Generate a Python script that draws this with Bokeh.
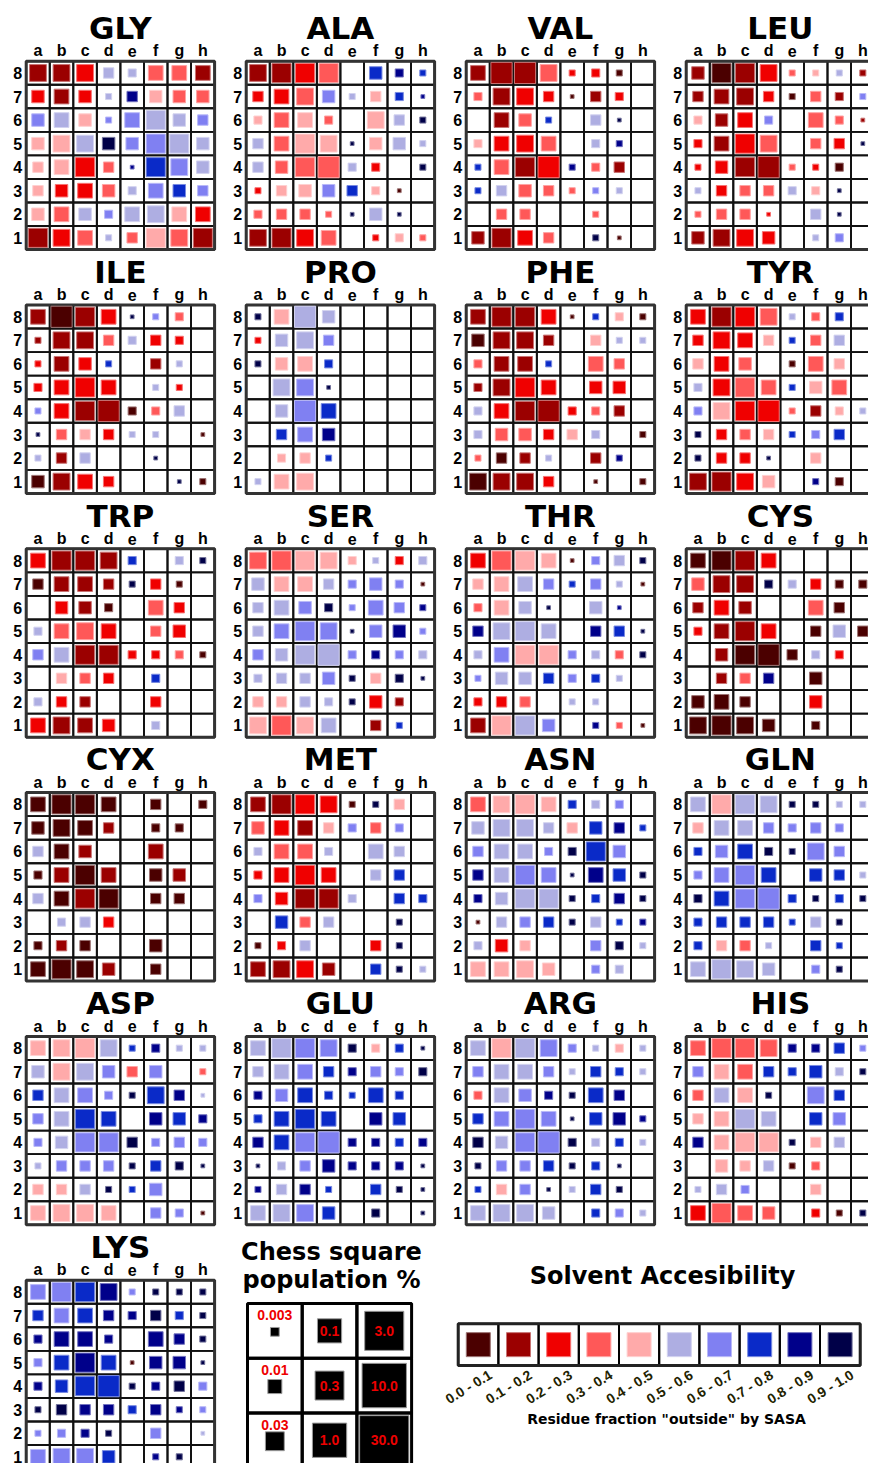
import math
from bokeh.plotting import figure
from bokeh.models import Range1d, ColumnDataSource
from bokeh.embed import file_html
from bokeh.resources import INLINE
from bokeh.core.properties import value

# ---------------- data ----------------
FILES = ["a", "b", "c", "d", "e", "f", "g", "h"]
RANKS = ["8", "7", "6", "5", "4", "3", "2", "1"]
POP_CLASSES = [0.003, 0.01, 0.03, 0.1, 0.3, 1.0, 3.0, 10.0, 30.0]
POP_LABELS = ["0.003", "0.01", "0.03", "0.1", "0.3", "1.0", "3.0", "10.0", "30.0"]
SASA_LABELS = ["0.0 - 0.1", "0.1 - 0.2", "0.2 - 0.3", "0.3 - 0.4", "0.4 - 0.5",
               "0.5 - 0.6", "0.6 - 0.7", "0.7 - 0.8", "0.8 - 0.9", "0.9 - 1.0"]
SASA_COLORS = ["#4b0000", "#9b0000", "#f00000", "#ff5858", "#ffaaaa",
               "#aeaee2", "#8080f2", "#0a2ac8", "#00008a", "#000048"]

# Each board: rows are ranks 8..1, characters are files a..h.
# *_POP: population class (1..9 -> POP_CLASSES, 0 = empty square)
# *_SAS: solvent accessibility bin (0..9 -> SASA_LABELS)
GLY_POP = ["77743666", "56524555", "56526854", "57755885", "46841875", "45653654", "56536766", "87624878"]
GLY_SAS = ["11255331", "21258433", "65466556", "44596655", "44238765", "42235676", "43565542", "12353431"]
ALA_POP = ["78880532", "46752431", "36630742", "46871552", "45893302", "24554310", "34421510", "78760232"]
ALA_SAS = ["11230787", "22365478", "43430459", "53449455", "53335209", "24467400", "33339590", "11230243"]
VAL_POP = ["69972320", "37741430", "06520410", "36760320", "26892340", "24542220", "04400200", "58640210"]
VAL_SAS = ["11132200", "31220120", "01370590", "42230580", "73128310", "75333650", "03300300", "11230900"]
LEU_POP = ["58872222", "46742432", "35630631", "36870441", "25892230", "24443310", "24410410", "57750230"]
LEU_SAS = ["10123451", "11120316", "41260331", "21230329", "22113200", "52335490", "33320590", "11220560"]
ILE_POP = ["69861230", "27743430", "26520420", "36860220", "26893340", "14442201", "24400100", "57640012"]
ILE_SAS = ["10129630", "11135220", "21270150", "22220520", "62110350", "93425500", "51500900", "01220090"]
PRO_POP = ["26950000", "25740000", "25630000", "07710000", "05960000", "04650000", "03420000", "26700000"]
PRO_SAS = ["94550000", "25560000", "94470000", "05690000", "05670000", "07680000", "04470000", "54400000"]
PHE_POP = ["68861232", "57740422", "36620640", "37860550", "36893340", "35544302", "24420420", "77740102"]
PHE_SAS = ["11120740", "01110455", "31170330", "11220220", "52112310", "53324500", "30150180", "01120000"]
TYR_POP = ["68872330", "47642440", "46502640", "37862560", "37892432", "24442340", "24410400", "78750230"]
TYR_SAS = ["21235370", "22247350", "42300340", "52337430", "64223145", "92347670", "92290400", "11240800"]
TRP_POP = ["68873032", "46642420", "05530640", "36760450", "46883332", "04440300", "34400400", "67650300"]
TRP_SAS = ["21117059", "01119200", "02100320", "53320320", "65112230", "04320700", "52100200", "21120500"]
SER_POP = ["78873233", "56643531", "46532642", "46871552", "45893333", "34452431", "44432530", "78760420"]
SER_SAS = ["33444525", "54456660", "55696668", "56669686", "65556865", "55569499", "44559210", "43450170"]
THR_POP = ["68861342", "46642421", "36510510", "47860441", "36883332", "25543320", "34402200", "68850221"]
THR_SAS = ["23440659", "44567650", "34590580", "85550879", "56446539", "65576750", "22305500", "14560830"]
CYS_POP = ["68860000", "57733433", "46500640", "36860454", "05894330", "04440500", "56400500", "78750300"]
CYS_SAS = ["00120000", "31195200", "12100300", "21120050", "01000520", "01380000", "00000200", "00000000"]
CYX_POP = ["68860403", "57640330", "46500600", "36860550", "46880440", "03440000", "34400500", "68750400"]
CYX_SAS = ["00000000", "00010000", "50100100", "01010010", "50100000", "05520000", "01000000", "00010000"]
MET_POP = ["68872240", "56643430", "36630640", "36860440", "35883043", "05440020", "23400420", "67750422"]
MET_SAS = ["11220940", "32146360", "53350550", "22220570", "62115077", "07350090", "02500290", "11210795"]
ASN_POP = ["67863330", "57744542", "46633850", "46861652", "35882342", "14442422", "35400432", "66750330"]
ASN_SAS = ["34447560", "55554787", "65569760", "85669879", "85559789", "05679578", "52400695", "44440650"]
GLN_POP = ["68872222", "46643430", "35632740", "36860542", "36893232", "34442420", "34420420", "68750320"]
GLN_SAS = ["54559955", "45566660", "76799660", "66670775", "97667979", "77777590", "74350770", "55550690"]
ASP_POP = ["67872322", "57754502", "46632741", "46860553", "35884343", "24442431", "44422500", "67760431"]
ASP_SAS = ["44457855", "54563603", "75669785", "65770878", "65669666", "56669799", "44597600", "44440660"]
GLU_POP = ["68873331", "46643433", "35632630", "36860550", "46893333", "13453331", "24420421", "67750301"]
GLU_SAS = ["55669479", "55678669", "86777770", "77770870", "87668878", "95688889", "85870799", "55670909"]
ARG_POP = ["68873232", "46642432", "36532640", "46861552", "45893332", "24442310", "24412420", "67750332"]
ARG_SAS = ["54566545", "65565775", "35689780", "76669788", "95669575", "96679790", "74695790", "55550765"]
HIS_POP = ["68873342", "46643532", "46620740", "46860550", "46882440", "05442300", "24300400", "68650322"]
HIS_SAS = ["33338876", "64377759", "35490670", "44550760", "84449450", "04450300", "55600400", "23330209"]
LYS_POP = ["68872222", "46643432", "36630642", "36861551", "35892343", "24443422", "23320401", "67750220"]
LYS_SAS = ["66786999", "76788979", "88880889", "67870889", "87779896", "99887886", "66890605", "66670890"]

BOARD_ROWS = [
    [("GLY", GLY_POP, GLY_SAS), ("ALA", ALA_POP, ALA_SAS), ("VAL", VAL_POP, VAL_SAS), ("LEU", LEU_POP, LEU_SAS)],
    [("ILE", ILE_POP, ILE_SAS), ("PRO", PRO_POP, PRO_SAS), ("PHE", PHE_POP, PHE_SAS), ("TYR", TYR_POP, TYR_SAS)],
    [("TRP", TRP_POP, TRP_SAS), ("SER", SER_POP, SER_SAS), ("THR", THR_POP, THR_SAS), ("CYS", CYS_POP, CYS_SAS)],
    [("CYX", CYX_POP, CYX_SAS), ("MET", MET_POP, MET_SAS), ("ASN", ASN_POP, ASN_SAS), ("GLN", GLN_POP, GLN_SAS)],
    [("ASP", ASP_POP, ASP_SAS), ("GLU", GLU_POP, GLU_SAS), ("ARG", ARG_POP, ARG_SAS), ("HIS", HIS_POP, HIS_SAS)],
    [("LYS", LYS_POP, LYS_SAS)],
]

# ---------------- layout / style ----------------
W, H = 868, 1463
X0, DX = 25.7, 220.0
Y0, DY = 60.7, 243.8
CELL = 23.55
BOLD_W = "DejaVu Sans"
BOLD_N = "Liberation Sans"


def side(pop, cell):
    return cell * (0.16 + 0.185 * math.log10(pop / 0.003))


def lighten(c, t):
    r, g, b = int(c[1:3], 16), int(c[3:5], 16), int(c[5:7], 16)
    return "#%02x%02x%02x" % (round(r + (255 - r) * t), round(g + (255 - g) * t), round(b + (255 - b) * t))


p = figure(width=W, height=H, x_range=Range1d(0, W), y_range=Range1d(H, 0),
           output_backend="svg", toolbar_location=None, min_border=0,
           x_axis_location=None, y_axis_location=None, outline_line_color=None,
           background_fill_color="white", border_fill_color="white")
p.xgrid.visible = False
p.ygrid.visible = False

cells = dict(x=[], y=[])
frames = dict(x=[], y=[], w=[], h=[])
sq = dict(x=[], y=[], s=[], fill=[], line=[])
titles = dict(x=[], y=[], t=[])
letters = dict(x=[], y=[], t=[])
numbers = dict(x=[], y=[], t=[])

for r, row in enumerate(BOARD_ROWS):
    for c, (name, pops, sass) in enumerate(row):
        bx = X0 + DX * c
        by = Y0 + DY * r
        frames["x"].append(bx + 4 * CELL)
        frames["y"].append(by + 4 * CELL)
        frames["w"].append(8 * CELL)
        frames["h"].append(8 * CELL)
        titles["x"].append(bx + 4 * CELL)
        titles["y"].append(by - 33.2)
        titles["t"].append(name)
        for j, f in enumerate(FILES):
            letters["x"].append(bx + (j + 0.5) * CELL)
            letters["y"].append(by - 10.3)
            letters["t"].append(f)
        for i, rk in enumerate(RANKS):
            numbers["x"].append(bx - 4)
            numbers["y"].append(by + (i + 0.5) * CELL)
            numbers["t"].append(rk)
            for j in range(8):
                cx = bx + (j + 0.5) * CELL
                cy = by + (i + 0.5) * CELL
                cells["x"].append(cx)
                cells["y"].append(cy)
                lvl = int(pops[i][j])
                if lvl > 0:
                    col = SASA_COLORS[int(sass[i][j])]
                    sq["x"].append(cx)
                    sq["y"].append(cy)
                    sq["s"].append(side(POP_CLASSES[lvl - 1], CELL))
                    sq["fill"].append(col)
                    sq["line"].append(lighten(col, 0.45))

p.rect("x", "y", width=CELL, height=CELL, source=ColumnDataSource(cells),
       fill_color=None, line_color="#111111", line_width=1.9)
p.rect("x", "y", width="w", height="h", source=ColumnDataSource(frames),
       fill_color=None, line_color="#333333", line_width=3)
p.rect("x", "y", width="s", height="s", source=ColumnDataSource(sq),
       fill_color="fill", line_color="line", line_width=1)

p.text("x", "y", text="t", source=ColumnDataSource(titles), text_font=value(BOLD_W),
       text_font_style="bold", text_font_size="31px", text_align="center",
       text_baseline="middle", text_color="black")
p.text("x", "y", text="t", source=ColumnDataSource(letters), text_font=value(BOLD_N),
       text_font_style="bold", text_font_size="16px", text_align="center",
       text_baseline="middle", text_color="black")
p.text("x", "y", text="t", source=ColumnDataSource(numbers), text_font=value(BOLD_N),
       text_font_style="bold", text_font_size="16px", text_align="right",
       text_baseline="middle", text_color="black")

# ---------------- population legend ----------------
LX0, LY0, LC = 247.0, 1303.0, 54.7
p.text([331, 331], [1251.7, 1279.4], text=["Chess square", "population %"], text_font=value(BOLD_W),
       text_font_style="bold", text_font_size="24px", text_align="center",
       text_baseline="middle", text_color="black")
leg = dict(x=[], y=[], s=[])
lab_in = dict(x=[], y=[], t=[])
lab_top = dict(x=[], y=[], t=[])
lcells = dict(x=[], y=[])
for k, (pv, pl) in enumerate(zip(POP_CLASSES, POP_LABELS)):
    col, row = k // 3, k % 3
    cx = LX0 + (col + 0.5) * LC
    cy = LY0 + (row + 0.5) * LC
    lcells["x"].append(cx)
    lcells["y"].append(cy)
    s = side(pv, LC)
    leg["x"].append(cx)
    leg["s"].append(s)
    if col == 0:
        leg["y"].append(cy + 1)
        lab_top["x"].append(cx)
        lab_top["y"].append(cy - 15.5)
        lab_top["t"].append(pl)
    else:
        leg["y"].append(cy)
        lab_in["x"].append(cx)
        lab_in["y"].append(cy)
        lab_in["t"].append(pl)
p.rect("x", "y", width=LC, height=LC, source=ColumnDataSource(lcells),
       fill_color=None, line_color="black", line_width=3)
p.rect("x", "y", width="s", height="s", source=ColumnDataSource(leg),
       fill_color="black", line_color="#9a9a9a", line_width=1)
p.text("x", "y", text="t", source=ColumnDataSource(lab_top), text_font=value(BOLD_N),
       text_font_style="bold", text_font_size="14px", text_align="center",
       text_baseline="middle", text_color="#ee0000")
p.text("x", "y", text="t", source=ColumnDataSource(lab_in), text_font=value(BOLD_N),
       text_font_style="bold", text_font_size="14px", text_align="center",
       text_baseline="middle", text_color="#ee0000")

# ---------------- solvent accessibility legend ----------------
SX0, SY0, SW, SH = 457.7, 1323.3, 40.2, 41.7
p.text([662], [1275.7], text=["Solvent Accesibility"], text_font=value(BOLD_W),
       text_font_style="bold", text_font_size="24px", text_align="center",
       text_baseline="middle", text_color="black")
sc = dict(x=[], y=[], fill=[], line=[], tx=[], ty=[], t=[])
for k, (lab, col) in enumerate(zip(SASA_LABELS, SASA_COLORS)):
    cx = SX0 + (k + 0.5) * SW
    sc["x"].append(cx)
    sc["y"].append(SY0 + SH / 2)
    sc["fill"].append(col)
    sc["line"].append(lighten(col, 0.45))
    sc["tx"].append(cx + 8)
    sc["ty"].append(SY0 + SH + 1)
    sc["t"].append(lab)
ssrc = ColumnDataSource(sc)
p.rect("x", "y", width=SW, height=SH, source=ssrc, fill_color=None,
       line_color="black", line_width=2)
p.rect([SX0 + 5 * SW], [SY0 + SH / 2], width=10 * SW, height=SH, fill_color=None,
       line_color="#222222", line_width=3)
p.rect("x", "y", width=24, height=24, source=ssrc, fill_color="fill",
       line_color="line", line_width=1)
p.text("tx", "ty", text="t", source=ssrc, angle=0.55, text_font=value(BOLD_N),
       text_font_style="bold", text_font_size="14px", text_align="right",
       text_baseline="top", text_color="#222200")
p.text([666], [1418.2], text=['Residue fraction "outside" by SASA'], text_font=value(BOLD_W),
       text_font_style="bold", text_font_size="14px", text_align="center",
       text_baseline="middle", text_color="black")

open("out.html", "w").write(file_html(p, INLINE))
